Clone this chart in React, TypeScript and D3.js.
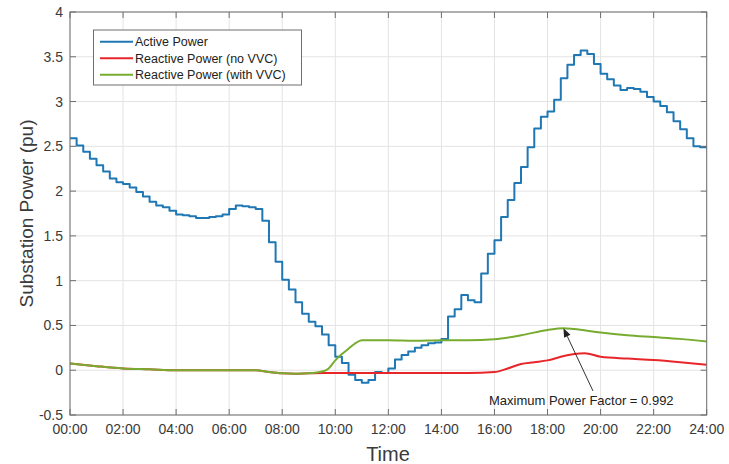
import React from "react";
import * as d3 from "d3";

// Active power, 15-minute steps from 00:00 to 24:00
const activeStepHours = d3.range(0, 24.01, 0.25);
const activePower = [
  2.59, 2.51, 2.44, 2.36, 2.29, 2.22, 2.14, 2.10, 2.08, 2.04, 1.99, 1.94,
  1.88, 1.84, 1.82, 1.78, 1.74, 1.73, 1.72, 1.70, 1.70, 1.71, 1.72, 1.74,
  1.80, 1.84, 1.83, 1.82, 1.80, 1.67, 1.43, 1.21, 1.01, 0.90, 0.76, 0.63,
  0.54, 0.49, 0.40, 0.28, 0.15, 0.08, -0.05, -0.11, -0.14, -0.11, -0.02, -0.03,
  0.02, 0.12, 0.17, 0.21, 0.25, 0.28, 0.30, 0.31, 0.35, 0.60, 0.68, 0.84,
  0.78, 0.76, 1.08, 1.30, 1.45, 1.71, 1.90, 2.09, 2.27, 2.49, 2.70, 2.83,
  2.89, 3.02, 3.26, 3.41, 3.52, 3.57, 3.53, 3.42, 3.31, 3.25, 3.18, 3.13,
  3.15, 3.14, 3.11, 3.05, 3.00, 2.95, 2.88, 2.78, 2.69, 2.59, 2.50, 2.49,
  2.49,
];

const vvcHours = [0, 1, 2, 3, 4, 5, 6, 7, 7.5, 8, 8.5, 9, 9.5, 9.75, 10, 10.25, 10.5, 10.75, 11, 12, 13, 14, 15, 16, 17, 18, 18.6, 19, 20, 21, 22, 23, 24];
const reactiveWithVVC = [0.075, 0.045, 0.02, 0.01, 0.0, 0.0, 0.0, 0.0, -0.02, -0.035, -0.04, -0.035, -0.015, 0.02, 0.11, 0.18, 0.24, 0.30, 0.335, 0.335, 0.33, 0.335, 0.335, 0.345, 0.39, 0.45, 0.47, 0.46, 0.42, 0.39, 0.37, 0.35, 0.32];

const noVvcHours = [0, 1, 2, 3, 4, 5, 6, 7, 7.5, 8, 8.5, 9, 9.5, 10, 11, 12, 13, 14, 15, 16, 16.5, 17, 17.5, 18, 18.5, 19, 19.4, 20, 21, 22, 23, 24];
const reactiveNoVVC = [0.075, 0.045, 0.02, 0.01, 0.0, 0.0, 0.0, 0.0, -0.02, -0.035, -0.04, -0.035, -0.03, -0.03, -0.03, -0.03, -0.03, -0.03, -0.03, -0.02, 0.02, 0.07, 0.09, 0.11, 0.15, 0.18, 0.19, 0.15, 0.13, 0.115, 0.09, 0.06];

const xTicks = [0, 2, 4, 6, 8, 10, 12, 14, 16, 18, 20, 22, 24];
const xTickLabels = ["00:00", "02:00", "04:00", "06:00", "08:00", "10:00", "12:00", "14:00", "16:00", "18:00", "20:00", "22:00", "24:00"];
const yTicks = [-0.5, 0, 0.5, 1, 1.5, 2, 2.5, 3, 3.5, 4];
const yTickLabels = ["-0.5", "0", "0.5", "1", "1.5", "2", "2.5", "3", "3.5", "4"];

const seriesNames = ["Active Power", "Reactive Power (no VVC)", "Reactive Power (with VVC)"];
const seriesColors = ["#1f77b4", "#e8262a", "#77ac30"];

const annotationText = "Maximum Power Factor = 0.992";
const annotationPoint = { h: 18.6, v: 0.47 };

export default function App() {
  const W = 729, H = 464;
  const left = 70, right = 706.7, top = 12, bottom = 415;
  const x = d3.scaleLinear().domain([0, 24]).range([left, right]);
  const y = d3.scaleLinear().domain([-0.5, 4]).range([bottom, top]);

  const stepLine = d3.line<number>()
    .x((_, i) => x(activeStepHours[i]))
    .y((d) => y(d))
    .curve(d3.curveStepAfter);
  const smoothLine = (hs: number[]) =>
    d3.line<number>()
      .x((_, i) => x(hs[i]))
      .y((d) => y(d))
      .curve(d3.curveMonotoneX);

  const font = "'Liberation Sans', Arial, Helvetica, sans-serif";
  const axisColor = "#6e6e6e";
  const textColor = "#3a3a3a";
  const gridColor = "#e3e3e3";

  const ax = x(annotationPoint.h);
  const ay = y(annotationPoint.v);
  const tailX = 593, tailY = 391;
  const ang = Math.atan2(ay - tailY, ax - tailX);
  const headLen = 9, headW = 3.5;
  const hx = ax - headLen * Math.cos(ang), hy = ay - headLen * Math.sin(ang);
  const px = -Math.sin(ang) * headW, py = Math.cos(ang) * headW;

  return (
    <svg width={W} height={H} style={{ display: "block", position: "absolute", left: 0, top: 0 }} fontFamily={font}>
      <rect x={0} y={0} width={W} height={H} fill="#fff" />
      {/* grid */}
      {xTicks.map((t) => (
        <line key={"gx" + t} x1={x(t)} x2={x(t)} y1={top} y2={bottom} stroke={gridColor} strokeWidth={1} />
      ))}
      {yTicks.map((t) => (
        <line key={"gy" + t} x1={left} x2={right} y1={y(t)} y2={y(t)} stroke={gridColor} strokeWidth={1} />
      ))}
      {/* series */}
      <path d={stepLine(activePower) || ""} fill="none" stroke={seriesColors[0]} strokeWidth={2} strokeLinejoin="round" />
      <path d={smoothLine(noVvcHours)(reactiveNoVVC) || ""} fill="none" stroke={seriesColors[1]} strokeWidth={2} />
      <path d={smoothLine(vvcHours)(reactiveWithVVC) || ""} fill="none" stroke={seriesColors[2]} strokeWidth={2} />
      {/* box and ticks */}
      <rect x={left} y={top} width={right - left} height={bottom - top} fill="none" stroke={axisColor} strokeWidth={1} />
      {xTicks.map((t) => (
        <g key={"tx" + t}>
          <line x1={x(t)} x2={x(t)} y1={bottom} y2={bottom - 6} stroke={axisColor} />
          <line x1={x(t)} x2={x(t)} y1={top} y2={top + 6} stroke={axisColor} />
        </g>
      ))}
      {yTicks.map((t) => (
        <g key={"ty" + t}>
          <line x1={left} x2={left + 6} y1={y(t)} y2={y(t)} stroke={axisColor} />
          <line x1={right} x2={right - 6} y1={y(t)} y2={y(t)} stroke={axisColor} />
        </g>
      ))}
      {xTicks.map((t, i) => (
        <text key={"lx" + t} x={x(t)} y={434} textAnchor="middle" fontSize={14} fill={textColor}>
          {xTickLabels[i]}
        </text>
      ))}
      {yTicks.map((t, i) => (
        <text key={"ly" + t} x={63} y={y(t) + 5} textAnchor="end" fontSize={14} fill={textColor}>
          {yTickLabels[i]}
        </text>
      ))}
      <text x={388} y={461} textAnchor="middle" fontSize={20} fill={textColor}>Time</text>
      <text transform={`translate(33,${(top + bottom) / 2}) rotate(-90)`} textAnchor="middle" fontSize={19} fill={textColor}>
        Substation Power (pu)
      </text>
      {/* legend */}
      <rect x={93.5} y={30} width={208} height={55} fill="#fff" stroke={axisColor} strokeWidth={1} />
      {seriesNames.map((name, i) => (
        <g key={name}>
          <line x1={100} x2={133} y1={41.7 + i * 16.5} y2={41.7 + i * 16.5} stroke={seriesColors[i]} strokeWidth={2} />
          <text x={135} y={41.7 + i * 16.5 + 4.5} fontSize={12.5} fill="#222">{name}</text>
        </g>
      ))}
      {/* annotation */}
      <line x1={tailX} y1={tailY} x2={hx} y2={hy} stroke="#333" strokeWidth={1} />
      <path d={`M${ax},${ay}L${hx + px},${hy + py}L${hx - px},${hy - py}Z`} fill="#222" />
      <text x={489} y={405} fontSize={13} fill="#222">{annotationText}</text>
    </svg>
  );
}
